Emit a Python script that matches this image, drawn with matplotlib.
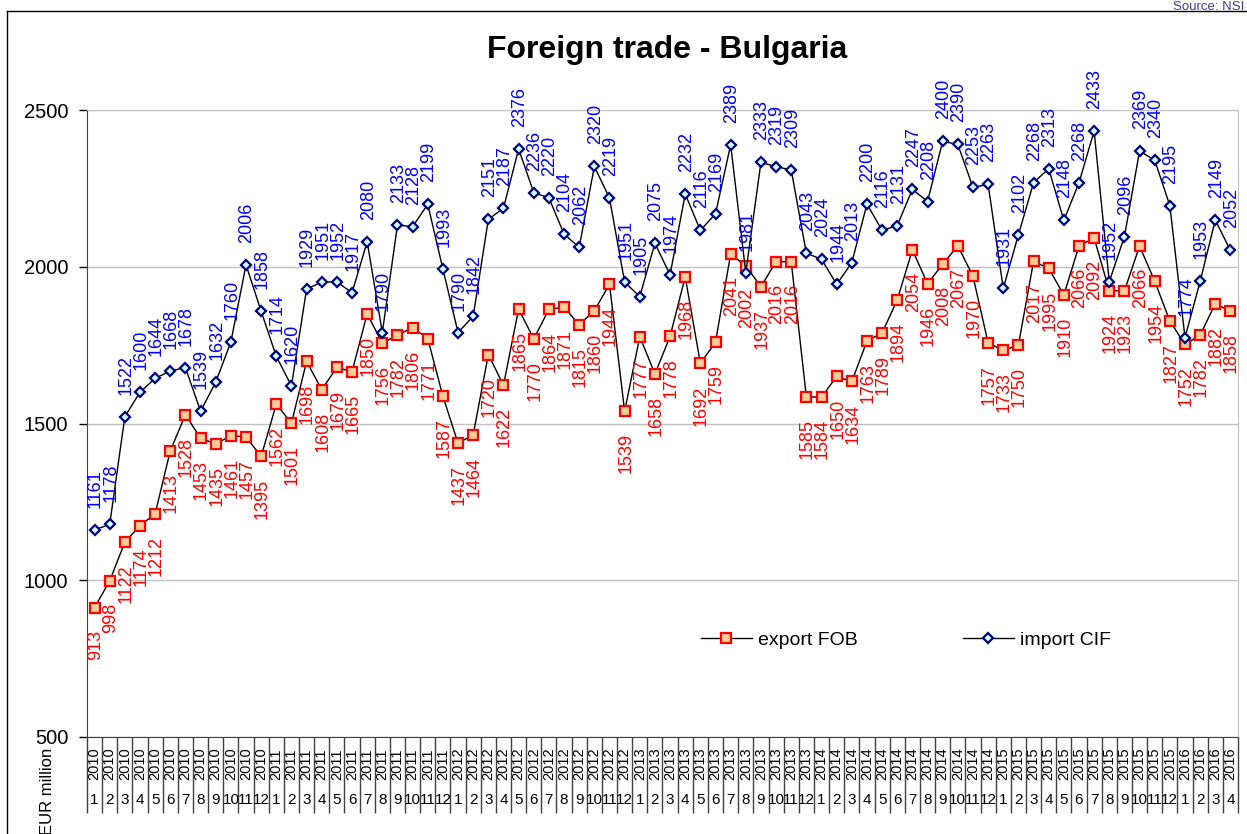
import numpy as np
import matplotlib.pyplot as plt
from matplotlib.lines import Line2D

# monthly data, EUR million (2010-1 .. 2016-4)
years = [2010] * 12 + [2011] * 12 + [2012] * 12 + [2013] * 12 + [2014] * 12 + [2015] * 12 + [2016] * 4
months = list(range(1, 13)) * 6 + [1, 2, 3, 4]

export_fob = [913, 998, 1122, 1174, 1212, 1413, 1528, 1453, 1435, 1461, 1457, 1395,
              1562, 1501, 1698, 1608, 1679, 1665, 1850, 1756, 1782, 1806, 1771, 1587,
              1437, 1464, 1720, 1622, 1865, 1770, 1864, 1871, 1815, 1860, 1944, 1539,
              1777, 1658, 1778, 1968, 1692, 1759, 2041, 2002, 1937, 2016, 2016, 1585,
              1584, 1650, 1634, 1763, 1789, 1894, 2054, 1946, 2008, 2067, 1970, 1757,
              1733, 1750, 2017, 1995, 1910, 2066, 2092, 1924, 1923, 2066, 1954, 1827,
              1752, 1782, 1882, 1858]

import_cif = [1161, 1178, 1522, 1600, 1644, 1668, 1678, 1539, 1632, 1760, 2006, 1858,
              1714, 1620, 1929, 1951, 1952, 1917, 2080, 1790, 2133, 2128, 2199, 1993,
              1790, 1842, 2151, 2187, 2376, 2236, 2220, 2104, 2062, 2320, 2219, 1951,
              1905, 2075, 1974, 2232, 2116, 2169, 2389, 1981, 2333, 2319, 2309, 2043,
              2024, 1944, 2013, 2200, 2116, 2131, 2247, 2208, 2400, 2390, 2253, 2263,
              1931, 2102, 2268, 2313, 2148, 2268, 2433, 1952, 2096, 2369, 2340, 2195,
              1774, 1953, 2149, 2052]

plt.rcParams['font.family'] = ['Liberation Sans', 'DejaVu Sans']

W, H = 1247, 834
fig = plt.figure(figsize=(W / 100, H / 100), dpi=100)
ax = fig.add_axes([87 / W, 1 - 737 / H, (1238 - 87) / W, (737 - 110) / H])

x = np.arange(len(export_fob))
ax.plot(x, export_fob, color='black', lw=1, marker='s', ms=7.5,
        mfc='#FFCC99', mec='red', mew=1.6, label='export FOB', zorder=3)
ax.plot(x, import_cif, color='black', lw=1, marker='D', ms=5.5,
        mfc='#CCFFFF', mec='#000080', mew=1.6, label='import CIF', zorder=3)

# data labels
for xi, v in zip(x, export_fob):
    ax.annotate(str(v), (xi, v), xytext=(1, -22), textcoords='offset pixels',
                rotation=90, ha='center', va='top', color='red', fontsize=13)
for xi, v in zip(x, import_cif):
    ax.annotate(str(v), (xi, v), xytext=(1, 22), textcoords='offset pixels',
                rotation=90, ha='center', va='bottom', color='#0000FF', fontsize=13)

ax.set_xlim(-0.5, len(x) - 0.5)
ax.set_ylim(500, 2500)
ax.set_yticks([500, 1000, 1500, 2000, 2500])
ax.tick_params(axis='y', length=5.5, width=1, direction='out', labelsize=14.5, pad=8)
ax.set_xticks([])
ax.yaxis.grid(True, color='#C0C0C0', lw=1)
ax.set_axisbelow(True)
ax.spines['top'].set_color('#C0C0C0')
ax.spines['right'].set_color('#C0C0C0')
ax.spines['left'].set_color('#404040')
ax.spines['bottom'].set_color('#404040')

# two level category axis
xt = ax.get_xaxis_transform()
ax.vlines(np.arange(len(x) + 1) - 0.5, -0.121, 0, transform=xt,
          colors='#404040', lw=1, clip_on=False)
for xi, yr, mo in zip(x, years, months):
    ax.text(xi, -0.043, str(yr), transform=xt, rotation=90,
            ha='center', va='center', fontsize=10.5)
    ax.text(xi, -0.101, str(mo), transform=xt,
            ha='center', va='center', fontsize=11)

ax.legend(loc='center left', bbox_to_anchor=((701 - 87) / 1151, (737 - 640) / 627),
          ncol=2, frameon=False, fontsize=14, handlelength=2.6, handletextpad=0.35,
          columnspacing=5.4, borderpad=0, borderaxespad=0)

fig.text(667 / W, 1 - 58 / H, 'Foreign trade - Bulgaria', ha='center', va='baseline',
         fontsize=23, fontweight='bold')
fig.text(47 / W, 1 - 791 / H, 'EUR million', rotation=90, ha='center', va='center',
         fontsize=12)
fig.text(1244 / W, 1 - 10.5 / H, 'Source: NSI', ha='right', va='baseline',
         fontsize=9.5, color='#4040A0')

# outer chart frame
fig.add_artist(Line2D([7 / W, 7 / W], [0, 1 - 11 / H], color='black', lw=1))
fig.add_artist(Line2D([7 / W, 1], [1 - 11 / H, 1 - 11 / H], color='black', lw=1))

fig.savefig('out.png', dpi=100)
